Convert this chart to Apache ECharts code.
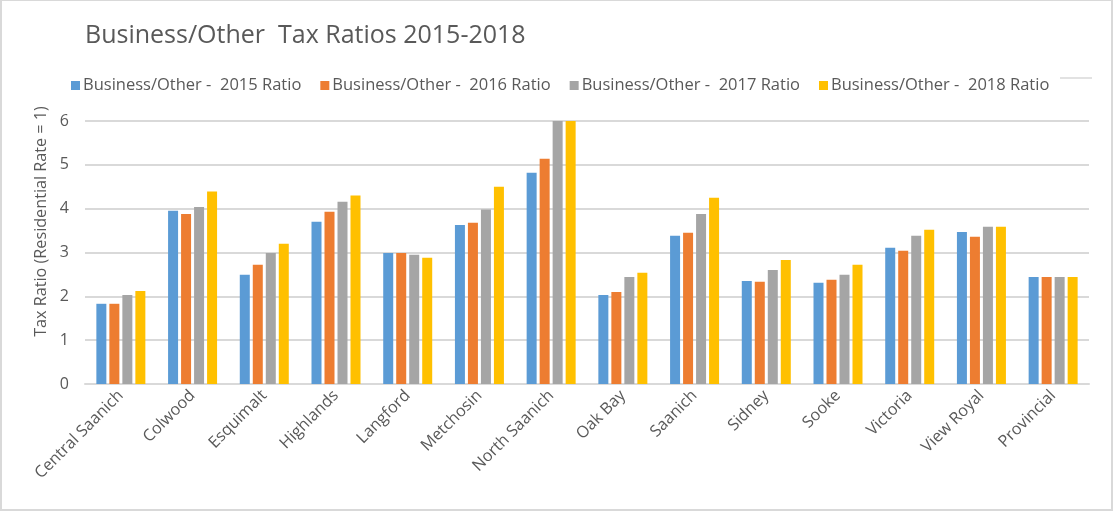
<!DOCTYPE html>
<html>
<head>
<meta charset="utf-8">
<script src="https://cdn.jsdelivr.net/npm/echarts@6/dist/echarts.min.js"></script>
<style>
  html, body { margin: 0; padding: 0; background: #fff; }
  #chart { position: absolute; left: 0; top: 0; width: 1109px; height: 508px; border: 2px solid #d9d9d9; border-top-width: 1px; }
</style>
</head>
<body>
<div id="chart"></div>
<script>
var categories = ['Central Saanich', 'Colwood', 'Esquimalt', 'Highlands', 'Langford', 'Metchosin',
  'North Saanich', 'Oak Bay', 'Saanich', 'Sidney', 'Sooke', 'Victoria', 'View Royal', 'Provincial'];
var ratio2015 = [1.83, 3.95, 2.49, 3.70, 2.99, 3.63, 4.82, 2.03, 3.38, 2.35, 2.31, 3.11, 3.47, 2.44];
var ratio2016 = [1.83, 3.88, 2.72, 3.93, 2.99, 3.68, 5.14, 2.10, 3.45, 2.33, 2.38, 3.04, 3.36, 2.44];
var ratio2017 = [2.03, 4.04, 2.99, 4.16, 2.95, 3.98, 6.03, 2.44, 3.88, 2.60, 2.49, 3.38, 3.59, 2.44];
var ratio2018 = [2.12, 4.39, 3.20, 4.30, 2.88, 4.50, 6.03, 2.54, 4.25, 2.83, 2.72, 3.52, 3.59, 2.44];
var seriesNames = ['Business/Other -  2015 Ratio', 'Business/Other -  2016 Ratio',
  'Business/Other -  2017 Ratio', 'Business/Other -  2018 Ratio'];
var colors = ['#5b9bd5', '#ed7d31', '#a5a5a5', '#ffc000'];

var chart = echarts.init(document.getElementById('chart'));
var font = 'Open Sans';
var textColor = '#595959';

var allData = [ratio2015, ratio2016, ratio2017, ratio2018];
var series = allData.map(function (d, i) {
  return {
    name: seriesNames[i],
    type: 'bar',
    data: d,
    barWidth: 10,
    barGap: '30%',
    itemStyle: { color: colors[i] }
  };
});

chart.setOption({
  animation: false,
  textStyle: { fontFamily: font },
  title: {
    text: 'Business/Other  Tax Ratios 2015-2018',
    left: 78,
    top: 17,
    textStyle: { fontFamily: font, fontSize: 25, fontWeight: 'normal', color: textColor }
  },
  legend: {
    left: 64,
    top: 71,
    itemWidth: 9,
    itemHeight: 9,
    itemGap: 19,
    icon: 'rect',
    textStyle: { fontFamily: font, fontSize: 16.5, color: textColor, padding: [0, 0, 0, -2] },
    data: seriesNames
  },
  grid: { left: 83, right: 22, top: 120, bottom: 125, containLabel: false },
  xAxis: {
    type: 'category',
    data: categories,
    axisLine: { lineStyle: { color: '#d9d9d9', width: 2 } },
    axisTick: { show: false },
    axisLabel: {
      rotate: 45,
      interval: 0,
      margin: 9,
      fontFamily: font,
      fontSize: 16.2,
      color: textColor
    }
  },
  yAxis: {
    type: 'value',
    min: 0,
    max: 6,
    interval: 1,
    name: 'Tax Ratio (Residential Rate = 1)',
    nameLocation: 'middle',
    nameGap: 34,
    nameTextStyle: { fontFamily: font, fontSize: 16.2, color: textColor, padding: [0, 0, 0, 62] },
    axisLine: { show: false },
    axisTick: { show: false },
    axisLabel: { fontFamily: font, fontSize: 16, color: textColor, margin: 16 },
    splitLine: { lineStyle: { color: '#d9d9d9', width: 2 } }
  },
  graphic: [{
    type: 'line',
    shape: { x1: 1058, y1: 77, x2: 1090, y2: 77 },
    style: { stroke: '#d9d9d9', lineWidth: 1.5 }
  }],
  series: series
});
</script>
</body>
</html>
